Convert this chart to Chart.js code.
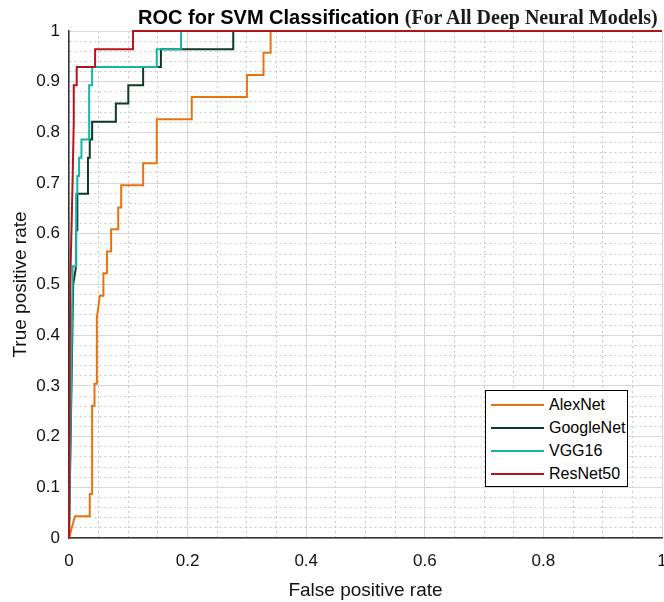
<!DOCTYPE html>
<html>
<head>
<meta charset="utf-8">
<script src="https://cdn.jsdelivr.net/npm/chart.js@4"></script>
<style>
  body { margin: 0; background: #fff; }
  #wrap { position: relative; width: 664px; height: 602px; }
  #title { position: absolute; left: 138px; top: 6px; line-height: 1; white-space: nowrap; color: #000; }
  #title .a { font: bold 20px "Liberation Sans", Arial, sans-serif; }
  #title .b { font: bold 20px "Liberation Serif", "Times New Roman", serif; color: #1a1a1a; }
  #legend { position: absolute; left: 485px; top: 390px; width: 143px; height: 97px; border: 1px solid #000; background: #fff; padding-top: 2px; box-sizing: border-box; }
  .row { height: 23.2px; display: flex; align-items: center; white-space: nowrap; font: 16px "Liberation Sans", Arial, sans-serif; color: #000; }
  .row span.ln { display: inline-block; flex: 0 0 53px; height: 2px; margin: 0 5px 0 5px; }
</style>
</head>
<body>
<div id="wrap">
  <canvas id="chart" width="664" height="602"></canvas>
  <div id="title"><span class="a">ROC for SVM Classification </span><span class="b">(For All Deep Neural Models)</span></div>
  <div id="legend"></div>
</div>
<script>
const seriesNames = ["AlexNet", "GoogleNet", "VGG16", "ResNet50"];
const seriesColors = ["#e8730f", "#0f3a24", "#17b5a8", "#b3141d"];

const alexnetFpr = [0, 0.01, 0.035, 0.035, 0.039, 0.039, 0.043, 0.043, 0.047, 0.047, 0.052, 0.058, 0.058, 0.064, 0.064, 0.071, 0.071, 0.083, 0.083, 0.088, 0.088, 0.125, 0.125, 0.148, 0.148, 0.207, 0.207, 0.30, 0.30, 0.328, 0.328, 0.34, 0.34, 1];
const alexnetTpr = [0, 0.043, 0.043, 0.087, 0.087, 0.261, 0.261, 0.304, 0.304, 0.435, 0.478, 0.478, 0.522, 0.522, 0.565, 0.565, 0.609, 0.609, 0.652, 0.652, 0.696, 0.696, 0.739, 0.739, 0.826, 0.826, 0.870, 0.870, 0.913, 0.913, 0.957, 0.957, 1, 1];

const googlenetFpr = [0, 0.007, 0.012, 0.012, 0.014, 0.014, 0.032, 0.032, 0.035, 0.035, 0.039, 0.039, 0.079, 0.079, 0.1, 0.1, 0.125, 0.125, 0.155, 0.155, 0.277, 0.277, 1];
const googlenetTpr = [0, 0.5, 0.536, 0.607, 0.607, 0.679, 0.679, 0.75, 0.75, 0.786, 0.786, 0.821, 0.821, 0.857, 0.857, 0.893, 0.893, 0.929, 0.929, 0.964, 0.964, 1, 1];

const vgg16Fpr = [0, 0.006, 0.006, 0.012, 0.012, 0.014, 0.014, 0.017, 0.017, 0.021, 0.021, 0.034, 0.034, 0.039, 0.039, 0.148, 0.148, 0.189, 0.189, 1];
const vgg16Tpr = [0, 0.5, 0.536, 0.536, 0.679, 0.679, 0.714, 0.714, 0.75, 0.75, 0.786, 0.786, 0.893, 0.893, 0.929, 0.929, 0.964, 0.964, 1, 1];

const resnet50Fpr = [0, 0.002, 0.004, 0.006, 0.008, 0.008, 0.013, 0.013, 0.044, 0.044, 0.108, 0.108, 1];
const resnet50Tpr = [0, 0.5, 0.6, 0.7, 0.82, 0.893, 0.893, 0.929, 0.929, 0.964, 0.964, 1, 1];

const xTickLabels = ["0", "0.2", "0.4", "0.6", "0.8", "1"];
const yTickLabels = ["0", "0.1", "0.2", "0.3", "0.4", "0.5", "0.6", "0.7", "0.8", "0.9", "1"];

function toPoints(xs, ys) {
	return xs.map(function (x, i) {
		return { x: x, y: ys[i] };
	});
}

const allSeries = [
	toPoints(alexnetFpr, alexnetTpr),
	toPoints(googlenetFpr, googlenetTpr),
	toPoints(vgg16Fpr, vgg16Tpr),
	toPoints(resnet50Fpr, resnet50Tpr),
];

const datasets = allSeries.map(function (pts, i) {
	return {
		label: seriesNames[i],
		data: pts,
		borderColor: seriesColors[i],
		borderWidth: 2,
		pointRadius: 0,
		tension: 0,
		fill: false,
		clip: 5,
		order: 4 - i,
	};
});

function isMultiple(v, step) {
	const r = v / step;
	return Math.abs(r - Math.round(r)) < 1e-6;
}

function labelFor(v, list) {
	const found = list.find(function (l) {
		return Math.abs(parseFloat(l) - v) < 1e-6;
	});
	return found === undefined ? "" : found;
}

const tickFont = { family: "'Liberation Sans', Arial, sans-serif", size: 17 };
const titleFont = { family: "'Liberation Sans', Arial, sans-serif", size: 19 };

const config = {
	type: "line",
	data: { datasets: datasets },
	options: {
		responsive: false,
		animation: false,
		layout: { padding: { left: 0, right: 2, top: 31, bottom: 0 } },
		plugins: {
			legend: { display: false },
			title: { display: false },
			tooltip: { enabled: false },
		},
		scales: {
			x: {
				type: "linear",
				min: 0,
				max: 1,
				afterFit: function (scale) {
					scale.height = 64;
					scale.paddingLeft = 0;
					scale.paddingRight = 0;
				},
				ticks: {
					stepSize: 0.05,
					autoSkip: false,
					maxRotation: 0,
					padding: 13,
					color: "#111",
					font: tickFont,
					callback: function (v) {
						return isMultiple(v, 0.2) ? labelFor(v, xTickLabels) : "";
					},
				},
				grid: {
					drawTicks: false,
					color: function (ctx) {
						if (!ctx.tick) return "#ccc";
						return isMultiple(ctx.tick.value, 0.2) ? "#d6d6d6" : "#c8c8c8";
					},
					lineWidth: 1,
				},
				border: {
					display: true,
					color: "#333",
					width: 1.5,
					dash: function (ctx) {
						if (!ctx.tick) return [];
						return isMultiple(ctx.tick.value, 0.2) ? [] : [2, 3];
					},
				},
				title: {
					display: true,
					text: "False positive rate",
					color: "#111",
					font: titleFont,
					padding: { top: 8, bottom: 0 },
				},
			},
			y: {
				type: "linear",
				min: 0,
				max: 1,
				afterFit: function (scale) {
					scale.width = 69;
				},
				ticks: {
					stepSize: 0.02,
					autoSkip: false,
					padding: 9,
					color: "#111",
					font: tickFont,
					callback: function (v) {
						return isMultiple(v, 0.1) ? labelFor(v, yTickLabels) : "";
					},
				},
				grid: {
					drawTicks: false,
					color: function (ctx) {
						if (!ctx.tick) return "#ccc";
						return isMultiple(ctx.tick.value, 0.1) ? "#d6d6d6" : "#c8c8c8";
					},
					lineWidth: 1,
				},
				border: {
					display: true,
					color: "#333",
					width: 1.5,
					dash: function (ctx) {
						if (!ctx.tick) return [];
						return isMultiple(ctx.tick.value, 0.1) ? [] : [2, 3];
					},
				},
				title: {
					display: true,
					text: "True positive rate",
					color: "#111",
					font: titleFont,
					padding: { top: 9, bottom: 0 },
				},
			},
		},
	},
};

const ctx = document.getElementById("chart").getContext("2d");
const myChart = new Chart(ctx, config);

// legend box inside the plot, like the matlab one
const legendEl = document.getElementById("legend");
seriesNames.forEach(function (name, i) {
	const row = document.createElement("div");
	row.className = "row";
	const ln = document.createElement("span");
	ln.className = "ln";
	ln.style.background = seriesColors[i];
	row.appendChild(ln);
	row.appendChild(document.createTextNode(name));
	legendEl.appendChild(row);
});
</script>
</body>
</html>
